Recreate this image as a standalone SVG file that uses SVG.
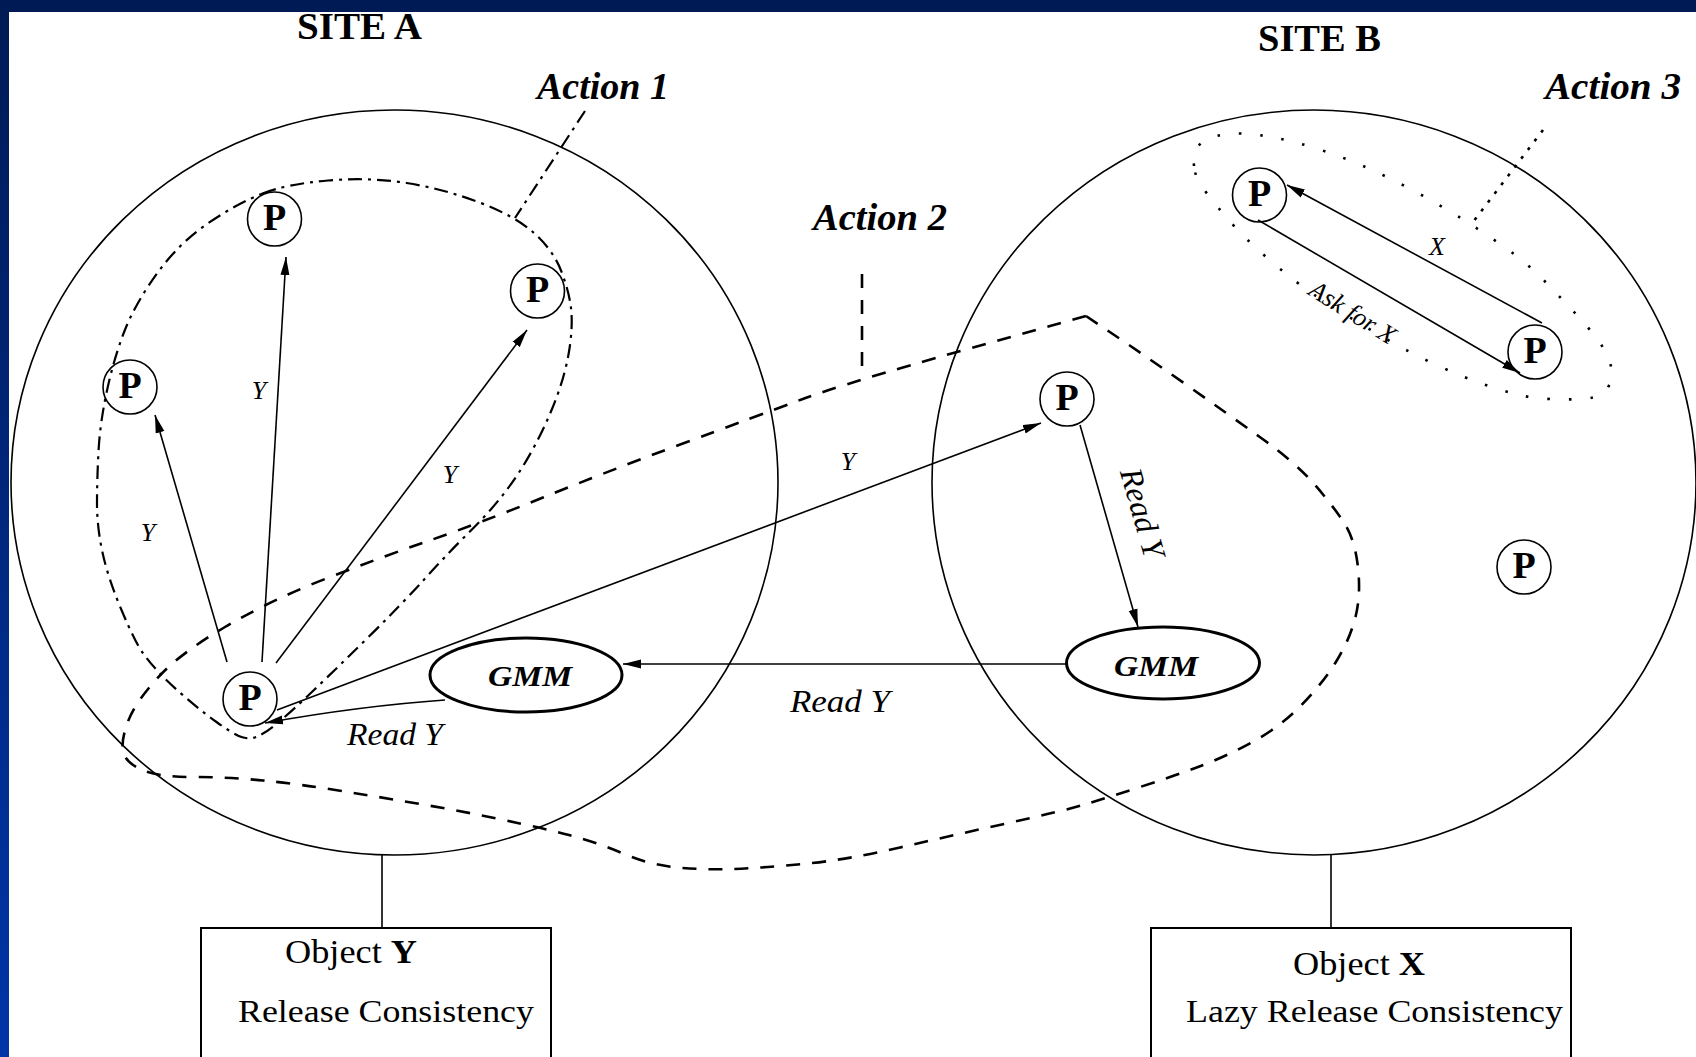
<svg xmlns="http://www.w3.org/2000/svg" width="1696" height="1057" viewBox="0 0 1696 1057">
<style>
.site{fill:none;stroke:#000;stroke-width:1.6}
.pn{fill:none;stroke:#000;stroke-width:1.6}
.gmm{fill:#fff;stroke:#000;stroke-width:3}
.ln{fill:none;stroke:#000;stroke-width:1.6}
.arr{fill:none;stroke:#000;stroke-width:1.6;marker-end:url(#ah)}
.dash{fill:none;stroke:#000;stroke-width:2.6;stroke-dasharray:14 12}
.dd{fill:none;stroke:#000;stroke-width:2.2;stroke-dasharray:14 6 3 6}
.dot{fill:none;stroke:#000;stroke-width:2.6;stroke-dasharray:2.5 19;stroke-linecap:butt}
.dot2{fill:none;stroke:#000;stroke-width:2.6;stroke-dasharray:3 8}
.box{fill:none;stroke:#000;stroke-width:2}
text{font-family:"Liberation Serif","Times New Roman",serif;fill:#000}
.ttl{font-size:38px;font-weight:bold}
.act{font-size:37px;font-weight:bold;font-style:italic}
.lbl{font-size:26px;font-style:italic}
.rd{font-size:32px;font-style:italic}
.P{font-size:38px;font-weight:bold;text-anchor:middle}
.g{font-size:30px;font-weight:bold;font-style:italic;text-anchor:middle}
.obj{font-size:33px}
.rc{font-size:31px}
</style>
<defs>
<linearGradient id="bg" x1="0" y1="0" x2="0" y2="1">
<stop offset="0" stop-color="#001a55"/>
<stop offset="1" stop-color="#0035a8"/>
</linearGradient>
<marker id="ah" markerUnits="userSpaceOnUse" markerWidth="18" markerHeight="10" viewBox="0 0 18 10" refX="18" refY="5" orient="auto">
<path d="M0,0.5 L18,5 L0,9.5 z" fill="#000"/>
</marker>
</defs>
<rect width="1696" height="1057" fill="url(#bg)"/>
<rect x="9" y="12" width="1687" height="1045" fill="#fff"/>

<g id="regions">
<path id="action1-region" class="dd" d="M262.5,193.5 Q287,184 328,180.5 Q369,177 406.5,183 Q444,189 479.5,202.5 Q515,216 534,233 Q553,250 561,270.5 Q569,291 571,308 Q573,325 569.5,348.5 Q566,372 556.5,397.5 Q547,423 533.5,448 Q520,473 504,493.5 Q488,514 469,532.5 Q450,551 425.5,578 Q401,605 368.5,637 Q336,669 314.5,689.5 Q293,710 280,721 Q267,732 258.5,736 Q250,740 241.5,737 Q233,734 216.5,722 Q200,710 185,697 Q170,684 160,673.5 Q150,663 142.5,652.5 Q135,642 121.5,610 Q108,578 102.5,552.5 Q97,527 97,503.5 Q97,480 98.5,451.5 Q100,423 107,390.5 Q114,358 124.5,331 Q135,304 157,273.5 Q179,243 208.5,223 Q238,203 262.5,193.5 Z"/>
<path id="action2-region" class="dash" d="M1086,316 L1115,335.5 Q1144,355 1184.5,383.5 Q1225,412 1260.5,437.5 Q1296,463 1315,485 Q1334,507 1344.5,523.5 Q1355,540 1358,567.5 Q1361,595 1355.5,617 Q1350,639 1336.5,661 Q1323,683 1301.5,705 Q1280,727 1252.5,742 Q1225,757 1198,767 Q1171,777 1138.5,787.5 Q1106,798 1084.5,804.5 Q1063,811 1008.5,823 Q954,835 900,847.5 Q846,860 803,864 Q760,868 732.5,869 Q705,870 677.5,867.5 Q650,865 623,853.5 Q596,842 569,835 Q542,828 501.5,819.5 Q461,811 420,804 Q379,797 338.5,790.5 Q298,784 263,780.5 Q228,777 192.5,777 Q157,777 141,769.5 Q125,762 123,751 Q121,740 128,721.5 Q135,703 157,678.5 Q179,654 225,627 Q271,600 325,579 Q379,558 429.5,540.5 Q480,523 543,497.5 Q606,472 681.5,444 Q757,416 801.5,399.5 Q846,383 966,349.5 L1086,316 Z"/>
<path id="action3-region" class="dot" d="M1194,166 Q1193,155 1197.5,147.5 Q1202,140 1212.5,137 Q1223,134 1235,133.5 Q1247,133 1268.5,136.5 Q1290,140 1316.5,148.5 Q1343,157 1366.5,167.5 Q1390,178 1415,191.5 Q1440,205 1461.5,218.5 Q1483,232 1505,247.5 Q1527,263 1545,281.5 Q1563,300 1580,318.5 Q1597,337 1603.5,348.5 Q1610,360 1611.5,369 Q1613,378 1608,387.5 Q1603,397 1586.5,398.5 Q1570,400 1550,399 Q1530,398 1515,394 Q1500,390 1481.5,383.5 Q1463,377 1436.5,365 Q1410,353 1375,332.5 Q1340,312 1317.5,297 Q1295,282 1269,259.5 Q1243,237 1226.5,217.5 Q1210,198 1202.5,187.5 Q1195,177 1194,166 Z"/>
</g>

<g id="site-a"><ellipse class="site" cx="394.5" cy="482.5" rx="383.5" ry="372.5"/></g>
<g id="site-b"><ellipse class="site" cx="1314" cy="482.5" rx="382" ry="372.5"/></g>

<g id="connectors">
<path class="arr" d="M227,662 L155,415"/>
<path class="arr" d="M262,662 L286,257"/>
<path class="arr" d="M276,663 L527,330"/>
<path class="arr" d="M277,710 L1041,423"/>
<path class="arr" d="M445,700 Q360,706 265,723"/>
<path class="arr" d="M1080,425 L1138,627"/>
<path class="arr" d="M1066,664 L623,664"/>
<path class="arr" d="M1542,323 L1287,185"/>
<path class="arr" d="M1258,220 L1520,373"/>
<path class="ln" d="M382,855 L382,928"/>
<path class="ln" d="M1331,855 L1331,928"/>
<path class="dd" d="M585,111 L515,218"/>
<path class="dash" d="M862,274 L862,378"/>
<path class="dot2" d="M1543,130 L1470,226"/>
</g>

<g id="pA1"><circle class="pn" cx="274.5" cy="219" r="27"/><text class="P" x="274.5" y="230">P</text></g>
<g id="pA2"><circle class="pn" cx="537.5" cy="291" r="27"/><text class="P" x="537.5" y="302">P</text></g>
<g id="pA3"><circle class="pn" cx="130" cy="387" r="27"/><text class="P" x="130" y="398">P</text></g>
<g id="pA4"><circle class="pn" cx="250" cy="699" r="27"/><text class="P" x="250" y="710">P</text></g>
<g id="pB1"><circle class="pn" cx="1067" cy="399" r="27"/><text class="P" x="1067" y="410">P</text></g>
<g id="pB2"><circle class="pn" cx="1259.5" cy="195" r="27"/><text class="P" x="1259.5" y="206">P</text></g>
<g id="pB3"><circle class="pn" cx="1535" cy="352" r="27"/><text class="P" x="1535" y="363">P</text></g>
<g id="pB4"><circle class="pn" cx="1524" cy="567" r="27"/><text class="P" x="1524" y="578">P</text></g>

<g id="gmmA"><ellipse class="gmm" cx="526" cy="675" rx="96" ry="37"/><text class="g" x="530" y="686" textLength="84" lengthAdjust="spacingAndGlyphs">GMM</text></g>
<g id="gmmB"><ellipse class="gmm" cx="1163" cy="663" rx="96.5" ry="36"/><text class="g" x="1156" y="676" textLength="84" lengthAdjust="spacingAndGlyphs">GMM</text></g>

<g id="boxA"><rect class="box" x="201" y="928" width="350" height="160"/>
<text class="obj" x="285" y="963" textLength="132" lengthAdjust="spacingAndGlyphs">Object <tspan font-weight="bold">Y</tspan></text>
<text class="rc" x="238" y="1022" textLength="296" lengthAdjust="spacingAndGlyphs">Release Consistency</text></g>
<g id="boxB"><rect class="box" x="1151" y="928" width="420" height="160"/>
<text class="obj" x="1293" y="975" textLength="132" lengthAdjust="spacingAndGlyphs">Object <tspan font-weight="bold">X</tspan></text>
<text class="rc" x="1186" y="1022" textLength="377" lengthAdjust="spacingAndGlyphs">Lazy Release Consistency</text></g>

<g id="labels">
<text class="ttl" x="297" y="39" textLength="125" lengthAdjust="spacingAndGlyphs">SITE A</text>
<text class="ttl" x="1258" y="51" textLength="123" lengthAdjust="spacingAndGlyphs">SITE B</text>
<text class="act" x="537" y="99" textLength="132" lengthAdjust="spacingAndGlyphs">Action 1</text>
<text class="act" x="813" y="230" textLength="134" lengthAdjust="spacingAndGlyphs">Action 2</text>
<text class="act" x="1545" y="99" textLength="136" lengthAdjust="spacingAndGlyphs">Action 3</text>
<text class="lbl" x="148" y="541" text-anchor="middle">Y</text>
<text class="lbl" x="259" y="399" text-anchor="middle">Y</text>
<text class="lbl" x="450" y="483" text-anchor="middle">Y</text>
<text class="lbl" x="848" y="470" text-anchor="middle">Y</text>
<text class="lbl" x="1437" y="255" text-anchor="middle">X</text>
<text class="rd" x="347" y="745" textLength="96" lengthAdjust="spacingAndGlyphs">Read Y</text>
<text class="rd" x="790" y="712" textLength="100" lengthAdjust="spacingAndGlyphs">Read Y</text>
<text class="rd" transform="translate(1142,513) rotate(74)" x="0" y="10" text-anchor="middle">Read Y</text>
<text class="lbl" transform="translate(1353,312) rotate(32)" x="0" y="9" text-anchor="middle">Ask for X</text>
</g>
</svg>
